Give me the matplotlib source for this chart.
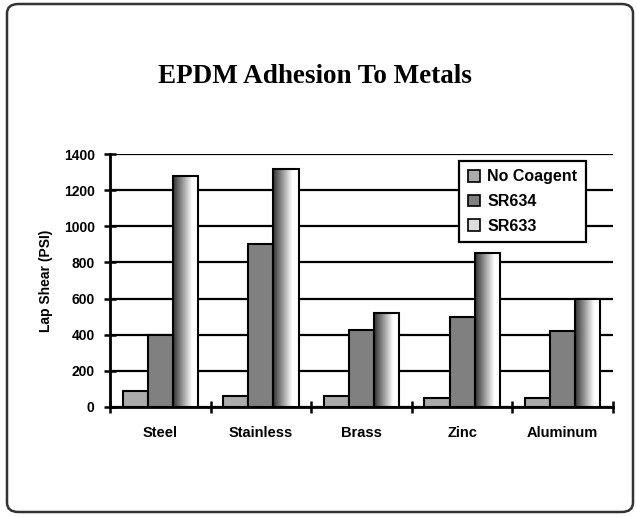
import numpy as np
import matplotlib
matplotlib.use("Agg")
import matplotlib.pyplot as plt
from matplotlib.patches import Patch, FancyBboxPatch

metals = ["Steel", "Stainless", "Brass", "Zinc", "Aluminum"]
no_coagent = [90, 60, 60, 50, 50]
sr634 = [400, 900, 425, 500, 420]
sr633 = [1280, 1315, 520, 850, 600]
series_names = ["No Coagent", "SR634", "SR633"]
yticks = [0, 200, 400, 600, 800, 1000, 1200, 1400]

plt.rcParams["font.family"] = ["Liberation Sans", "DejaVu Sans"]
plt.rcParams["font.weight"] = "bold"

fig = plt.figure(figsize=(6.37, 5.17), dpi=100)

# rounded outer frame
frame = FancyBboxPatch((7 / 637, 5 / 517), 626 / 637, 508 / 517,
                       boxstyle="round,pad=0,rounding_size=0.018",
                       transform=fig.transFigure, fill=False,
                       edgecolor="#333333", linewidth=1.8)
fig.patches.append(frame)

fig.text(315 / 637, 1 - 83 / 517, "EPDM Adhesion To Metals", ha="center",
         va="baseline", fontsize=19.5, fontweight="bold",
         family=["Liberation Serif", "DejaVu Serif"])

ax = fig.add_axes([110 / 637, 110 / 517, 503 / 637, 253 / 517])

x = np.arange(len(metals))
w = 0.25
b1 = ax.bar(x - w, no_coagent, w, color="#ababab", edgecolor="black",
            linewidth=1.5, zorder=3)
b2 = ax.bar(x, sr634, w, color="#808080", edgecolor="black",
            linewidth=1.5, zorder=3)
b3 = ax.bar(x + w, sr633, w, facecolor="none", edgecolor="black",
            linewidth=1.5, zorder=3)

# left-to-right gradient fill for SR633 bars
grad = np.concatenate([np.linspace(0.2, 1.0, 75), np.ones(25)])
grad = grad.reshape(1, -1)
for bar in b3:
    bx, by = bar.get_x(), bar.get_y()
    bw, bh = bar.get_width(), bar.get_height()
    im = ax.imshow(grad, cmap="gray", vmin=0, vmax=1, aspect="auto",
                   extent=[bx, bx + bw, by, by + bh], zorder=2.5)
    im.set_clip_path(bar)

ax.set_xlim(-0.5, len(metals) - 0.5)
ax.set_ylim(0, 1400)
ax.set_yticks(yticks)
ax.set_yticklabels([str(v) for v in yticks], fontsize=10, fontweight="bold")
ax.set_xticks(x)
ax.set_xticklabels(metals, fontsize=10.5, fontweight="bold")
ax.set_xticks(np.arange(len(metals) + 1) - 0.5, minor=True)
ax.tick_params(axis="x", which="major", length=0, pad=14)
ax.tick_params(axis="x", which="minor", direction="inout", length=8,
               width=1.8)
ax.tick_params(axis="y", direction="inout", length=8, width=1.8, pad=7)

ax.grid(axis="y", color="black", linewidth=1.6, zorder=0)
ax.set_axisbelow(True)
for s in ["top", "right"]:
    ax.spines[s].set_visible(False)
for s in ["left", "bottom"]:
    ax.spines[s].set_linewidth(2)

ax.set_ylabel("Lap Shear (PSI)", fontsize=10, fontweight="bold")
ax.yaxis.set_label_coords(-0.114, 0.5)

handles = [Patch(facecolor="#ababab", edgecolor="black", linewidth=1.2),
           Patch(facecolor="#808080", edgecolor="black", linewidth=1.2),
           Patch(facecolor="#dcdcdc", edgecolor="black", linewidth=1.2)]
leg = ax.legend(handles, series_names, loc="upper left",
                bbox_to_anchor=(0.694, 0.9735), borderaxespad=0,
                fancybox=False, framealpha=1, edgecolor="black",
                handlelength=0.75, handleheight=0.75, handletextpad=0.45,
                labelspacing=0.6, prop={"size": 11.5, "weight": "bold"},
                borderpad=0.55)
leg.get_frame().set_linewidth(1.6)

fig.savefig("out.png", dpi=100)
